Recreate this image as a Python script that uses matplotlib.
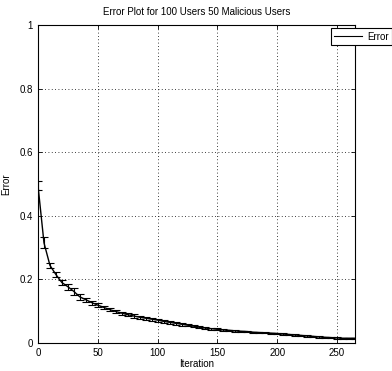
import matplotlib
matplotlib.use("Agg")
import matplotlib.pyplot as plt
from matplotlib.lines import Line2D

plt.rcParams['font.family'] = ['Liberation Sans', 'DejaVu Sans']

iterations = [0, 5, 10, 15, 20, 25, 30, 35, 40, 45, 50, 55, 60, 65, 70, 75, 80, 85, 90, 95,
              100, 105, 110, 115, 120, 125, 130, 135, 140, 145, 150, 155, 160, 165, 170, 175,
              180, 185, 190, 195, 200, 205, 210, 215, 220, 225, 230, 235, 240, 245, 250, 255,
              260, 265]
error_mean = [0.495, 0.315, 0.244, 0.215, 0.190, 0.177, 0.162, 0.145, 0.136, 0.127,
              0.119, 0.112, 0.105, 0.099, 0.094, 0.089, 0.085, 0.081, 0.078, 0.075,
              0.072, 0.068, 0.065, 0.062, 0.059, 0.056, 0.053, 0.050, 0.047, 0.045,
              0.043, 0.041, 0.040, 0.038, 0.037, 0.036, 0.034, 0.033, 0.032, 0.031,
              0.030, 0.028, 0.027, 0.025, 0.024, 0.022, 0.021, 0.019, 0.018, 0.017,
              0.016, 0.015, 0.015, 0.015]
error_std = [0.015, 0.017, 0.009, 0.009, 0.008, 0.010, 0.010, 0.009, 0.006, 0.006,
             0.006, 0.005, 0.005, 0.005, 0.005, 0.005, 0.005, 0.005, 0.005, 0.005,
             0.005, 0.004, 0.004, 0.004, 0.004, 0.004, 0.004, 0.003, 0.003, 0.003,
             0.003, 0.002, 0.002, 0.002, 0.002, 0.002, 0.002, 0.002, 0.002, 0.002,
             0.002, 0.002, 0.002, 0.002, 0.002, 0.002, 0.002, 0.002, 0.002, 0.002,
             0.002, 0.002, 0.002, 0.002]
xticks = [0, 50, 100, 150, 200, 250]
yticks = [0, 0.2, 0.4, 0.6, 0.8, 1]
ytick_labels = ["0", "0.2", "0.4", "0.6", "0.8", "1"]

fig = plt.figure(figsize=(3.92, 3.71), dpi=100)
ax = fig.add_axes([38/392, 28/371, 317/392, 318/371])

ax.errorbar(iterations, error_mean, yerr=error_std, color='black', linewidth=1.0,
            elinewidth=0.8, capsize=3, capthick=0.8)

ax.set_xlim(0, 265)
ax.set_ylim(0, 1)
ax.set_xticks(xticks)
ax.set_xticklabels([str(t) for t in xticks])
ax.set_yticks(yticks)
ax.set_yticklabels(ytick_labels)
ax.tick_params(direction='in', top=True, right=True, labelsize=7, length=3, width=0.6)
ax.grid(True, color='black', linestyle=(0, (1, 3)), linewidth=0.6)
for s in ax.spines.values():
    s.set_linewidth(0.8)

ax.set_xlabel('Iteration', fontsize=7, labelpad=1)
ax.set_ylabel('Error', fontsize=7, labelpad=6)
ax.set_title('Error Plot for 100 Users 50 Malicious Users', fontsize=7, pad=7)

handle = Line2D([], [], color='black', linewidth=0.8)
leg = ax.legend([handle], ['Error'], loc='upper left', bbox_to_anchor=(0.924, 0.99),
                borderaxespad=0, fontsize=7, fancybox=False, framealpha=1,
                edgecolor='black', handlelength=2.8, borderpad=0.35, handletextpad=0.6)
leg.get_frame().set_linewidth(0.8)

fig.savefig('out.png', dpi=100)
